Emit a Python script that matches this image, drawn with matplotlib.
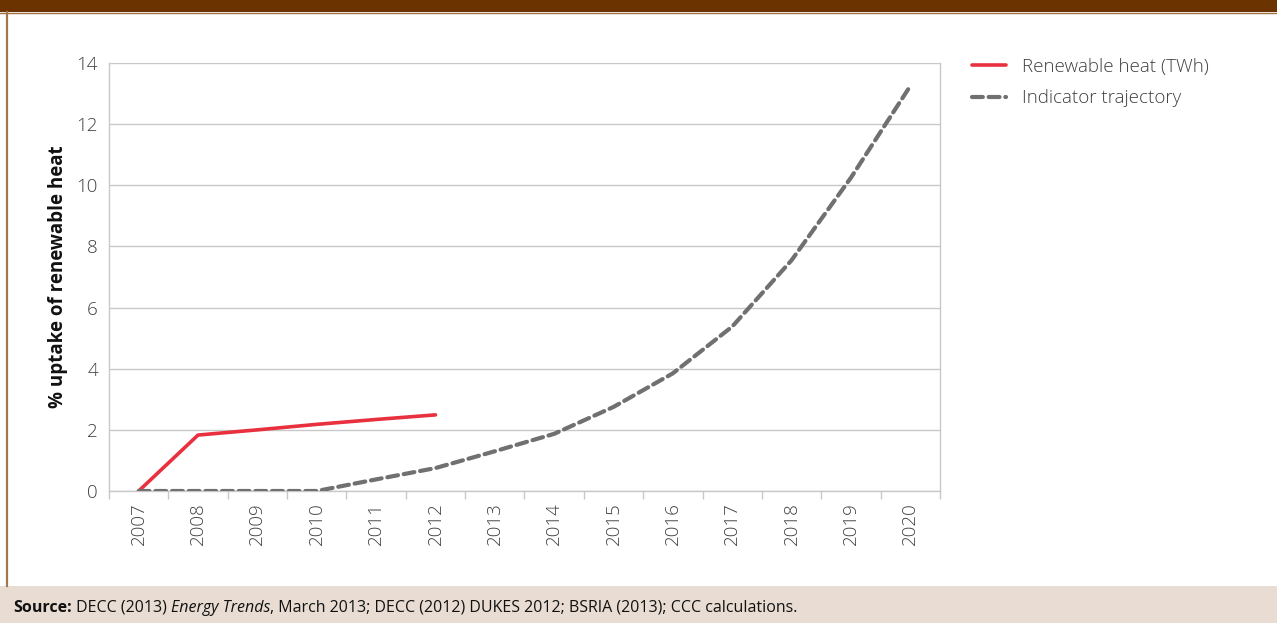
import matplotlib
matplotlib.use("Agg")
import matplotlib.pyplot as plt
from matplotlib.patches import Rectangle
from matplotlib.lines import Line2D

years = ["2007", "2008", "2009", "2010", "2011", "2012", "2013",
         "2014", "2015", "2016", "2017", "2018", "2019", "2020"]
renewable_heat = [0.0, 1.83, 2.0, 2.18, 2.34, 2.49]
indicator = [0.0, 0.0, 0.0, 0.0, 0.38, 0.75, 1.3, 1.87, 2.75, 3.85,
             5.38, 7.55, 10.25, 13.25]
yticks = [0, 2, 4, 6, 8, 10, 12, 14]

W, H = 1277, 623
fig = plt.figure(figsize=(W / 100, H / 100), dpi=100)
plt.rcParams['font.family'] = ['Open Sans', 'DejaVu Sans']

txt = "#404040"
grid = "#C8C8C8"
red = "#E8303F"
gray = "#707070"
FS = 13.5

# Decorative frame
fig.add_artist(Rectangle((0, 1 - 12 / H), 1, 12 / H, transform=fig.transFigure,
                         facecolor="#6B3300", edgecolor="none"))
fig.add_artist(Line2D([0, 1], [1 - 12.5 / H, 1 - 12.5 / H], transform=fig.transFigure,
                      color="#A0703F", lw=1))
fig.add_artist(Rectangle((0, 0), 1, 37 / H, transform=fig.transFigure,
                         facecolor="#E9DDD3", edgecolor="none"))
fig.add_artist(Line2D([6.5 / W, 6.5 / W], [37 / H, 1 - 12 / H], transform=fig.transFigure,
                      color="#A07850", lw=1.6))

ax = fig.add_axes([109 / W, (H - 491) / H, (940 - 109) / W, (491 - 63) / H])
x_all = list(range(len(years)))
ax.plot(x_all[:len(renewable_heat)], renewable_heat, color=red, lw=2.6,
        solid_capstyle="round", label="Renewable heat (TWh)", zorder=3)
ax.plot(x_all, indicator, color=gray, lw=3.0, dashes=(2.6, 1.4),
        dash_capstyle="round", label="Indicator trajectory", zorder=3)

ax.set_xlim(-0.5, len(years) - 0.5)
ax.set_ylim(0, 14)
ax.set_yticks(yticks)
ax.set_yticklabels([str(v) for v in yticks])
ax.set_xticks(x_all)
ax.set_xticklabels(years, rotation=90)
ax.set_xticks([i - 0.5 for i in range(len(years) + 1)], minor=True)
ax.tick_params(axis="x", which="major", length=0, pad=8, labelsize=FS, colors=txt)
ax.tick_params(axis="x", which="minor", length=6, width=1, color=grid)
ax.tick_params(axis="y", length=0, pad=8, labelsize=FS, colors=txt)
for lab in ax.get_xticklabels() + ax.get_yticklabels():
    lab.set_fontweight("light")
for lab in ax.get_xticklabels():
    lab.set_va("top")

ax.grid(axis="y", color=grid, lw=1)
ax.set_axisbelow(True)
ax.spines["top"].set_visible(False)
for s in ["left", "right", "bottom"]:
    ax.spines[s].set_color(grid)
    ax.spines[s].set_linewidth(1)

ax.set_ylabel("% uptake of renewable heat", fontsize=13.5, fontweight="bold",
              color="#111111", labelpad=6)

leg = fig.legend(loc="upper left", bbox_to_anchor=(955 / W, 1 - 41 / H),
                 frameon=False, fontsize=FS, handlelength=1.8, handletextpad=0.85,
                 labelspacing=0.72, labelcolor=txt)
for t in leg.get_texts():
    t.set_fontweight("light")

fig.canvas.draw()
r = fig.canvas.get_renderer()
yb = 11 / H
parts = [("Source:", "bold", "normal"), (" DECC (2013) ", "normal", "normal"),
         ("Energy Trends", "normal", "italic"),
         (", March 2013; DECC (2012) DUKES 2012; BSRIA (2013); CCC calculations.",
          "normal", "normal")]
xpos = 13 / W
for s, wgt, sty in parts:
    t = fig.text(xpos, yb, s, fontsize=11.5, color="#111111", va="baseline",
                 fontweight=wgt, style=sty)
    xpos = t.get_window_extent(r).x1 / W

fig.savefig("out.png", dpi=100)
